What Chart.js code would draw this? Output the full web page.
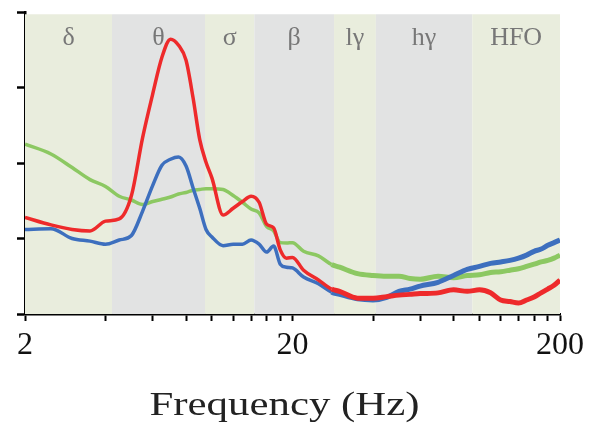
<!DOCTYPE html>
<html>
<head>
<meta charset="utf-8">
<script src="https://cdn.jsdelivr.net/npm/chart.js@4.4.1/dist/chart.umd.min.js"></script>
<style>
  html, body { margin: 0; padding: 0; background: #ffffff; }
  #wrap { width: 606px; height: 430px; position: relative; }
</style>
</head>
<body>
<div id="wrap"><canvas id="c" width="606" height="430"></canvas></div>
<script>
// ---- data ----
const freqs = [2, 2.5, 3, 3.5, 4, 4.5, 5, 5.5, 6, 6.5, 7, 7.5, 8, 8.5, 9, 9.5, 10, 11, 12, 13, 14, 15, 16, 17, 18, 19, 20, 22, 25, 28, 30, 35, 40, 45, 50, 55, 60, 70, 80, 90, 100, 110, 120, 130, 140, 150, 160, 170, 180, 190, 200];

const redValues = [1.28, 1.18, 1.12, 1.10, 1.23, 1.26, 1.57, 2.33, 2.91, 3.40, 3.64, 3.56, 3.36, 2.86, 2.31, 2.01, 1.80, 1.31, 1.40, 1.49, 1.56, 1.48, 1.19, 1.14, 0.85, 0.74, 0.75, 0.58, 0.45, 0.33, 0.30, 0.21, 0.21, 0.23, 0.25, 0.26, 0.27, 0.28, 0.32, 0.30, 0.32, 0.28, 0.185, 0.165, 0.145, 0.185, 0.225, 0.28, 0.33, 0.38, 0.45];

const blueValues = [1.12, 1.13, 1.00, 0.965, 0.925, 0.98, 1.04, 1.36, 1.70, 1.97, 2.05, 2.08, 1.96, 1.67, 1.40, 1.12, 1.02, 0.905, 0.925, 0.925, 0.98, 0.925, 0.82, 0.90, 0.66, 0.62, 0.61, 0.49, 0.40, 0.29, 0.26, 0.20, 0.185, 0.22, 0.30, 0.33, 0.37, 0.42, 0.51, 0.59, 0.63, 0.67, 0.69, 0.71, 0.74, 0.78, 0.83, 0.86, 0.91, 0.945, 0.98];

const greenValues = [2.25, 2.12, 1.94, 1.78, 1.69, 1.56, 1.51, 1.45, 1.49, 1.52, 1.55, 1.59, 1.61, 1.64, 1.65, 1.66, 1.66, 1.65, 1.57, 1.48, 1.39, 1.34, 1.16, 1.10, 0.945, 0.94, 0.945, 0.83, 0.77, 0.655, 0.62, 0.535, 0.51, 0.50, 0.50, 0.47, 0.46, 0.50, 0.48, 0.51, 0.52, 0.55, 0.56, 0.58, 0.60, 0.63, 0.66, 0.69, 0.71, 0.74, 0.78];

const bandEdges = [2, 4.23, 9.42, 14.4, 28.6, 41, 94, 200];
const bandLabels = ['δ', 'θ', 'σ', 'β', 'lγ', 'hγ', 'HFO'];
const xTickValues = [2, 4, 6, 8, 10, 12, 14, 16, 18, 20, 40, 60, 80, 100, 120, 140, 160, 180, 200];
const xTickLabels = { 2: '2', 20: '20', 200: '200' };
const yTickValues = [0, 1, 2, 3, 4];
const axisTitle = 'Frequency (Hz)';

// ---- styles ----
const bandColors = ['#e9eddd', '#e2e3e3'];
const serif = "'Liberation Serif', 'Times New Roman', serif";

const bandPlugin = {
  id: 'bands',
  beforeDatasetsDraw(chart) {
    const { ctx, chartArea, scales } = chart;
    const xs = scales.x, ys = scales.y;
    const top = ys.getPixelForValue(3.97);
    const bottom = chartArea.bottom;
    ctx.save();
    for (let i = 0; i < bandLabels.length; i++) {
      const x0 = xs.getPixelForValue(bandEdges[i]);
      const x1 = xs.getPixelForValue(bandEdges[i + 1]);
      ctx.fillStyle = bandColors[i % 2];
      ctx.fillRect(x0, top, x1 - x0, bottom - top);
    }
    ctx.fillStyle = '#777777';
    ctx.font = '26px ' + serif;
    ctx.textAlign = 'center';
    ctx.textBaseline = 'alphabetic';
    for (let i = 0; i < bandLabels.length; i++) {
      const x0 = xs.getPixelForValue(bandEdges[i]);
      const x1 = xs.getPixelForValue(bandEdges[i + 1]);
      ctx.fillText(bandLabels[i], (x0 + x1) / 2, top + 31);
    }
    ctx.restore();
  }
};

// axis title, drawn as canvas text slightly widened like the reference
const titlePlugin = {
  id: 'xtitle',
  afterDraw(chart) {
    const { ctx, chartArea } = chart;
    ctx.save();
    ctx.font = '34px ' + serif;
    ctx.fillStyle = '#222';
    ctx.textAlign = 'center';
    ctx.textBaseline = 'alphabetic';
    const w = ctx.measureText(axisTitle).width;
    const sx = 270 / w;
    const cx = (chartArea.left + chartArea.right) / 2 - 8;
    ctx.translate(cx, chartArea.bottom + 101);
    ctx.scale(sx, 1);
    ctx.fillText(axisTitle, 0, 0);
    ctx.restore();
  }
};

const thick = (c) => (c.p0.parsed.x >= 28 ? 5 : 3.5);

new Chart(document.getElementById('c'), {
  type: 'line',
  data: {
    datasets: [
      { data: freqs.map((f, i) => ({ x: f, y: redValues[i] })), borderColor: '#ee2a2b', segment: { borderWidth: thick } },
      { data: freqs.map((f, i) => ({ x: f, y: blueValues[i] })), borderColor: '#3d6fbe', segment: { borderWidth: thick } },
      { data: freqs.map((f, i) => ({ x: f, y: greenValues[i] })), borderColor: '#8cc862', segment: { borderWidth: thick } }
    ]
  },
  options: {
    responsive: false,
    animation: false,
    devicePixelRatio: 1,
    layout: { padding: { top: 12, right: 46, left: 0, bottom: 0 } },
    elements: {
      point: { radius: 0 },
      line: { tension: 0.35, borderWidth: 3.5, fill: false, cubicInterpolationMode: 'monotone' }
    },
    plugins: { legend: { display: false }, tooltip: { enabled: false } },
    scales: {
      x: {
        type: 'logarithmic',
        min: 2, max: 200,
        afterBuildTicks: (s) => { s.ticks = xTickValues.map(v => ({ value: v })); },
        afterFit: (s) => { s.height = 116; },
        grid: { drawOnChartArea: false, drawTicks: true, tickLength: 7, tickWidth: 2, tickColor: '#000' },
        border: { display: true, color: '#000', width: 2.5 },
        ticks: {
          autoSkip: false, maxRotation: 0, padding: 5, color: '#111',
          font: { family: serif, size: 32 },
          callback: (v) => xTickLabels[v] || ''
        },
        title: { display: false }
      },
      y: {
        type: 'linear',
        min: 0, max: 4,
        afterBuildTicks: (s) => { s.ticks = yTickValues.map(v => ({ value: v })); },
        afterFit: (s) => { s.width = 25; },
        grid: { drawOnChartArea: false, drawTicks: true, tickLength: 8, tickWidth: 2.5, tickColor: '#000' },
        border: { display: true, color: '#000', width: 2.5 },
        ticks: { display: false }
      }
    }
  },
  plugins: [bandPlugin, titlePlugin]
});
</script>
</body>
</html>
